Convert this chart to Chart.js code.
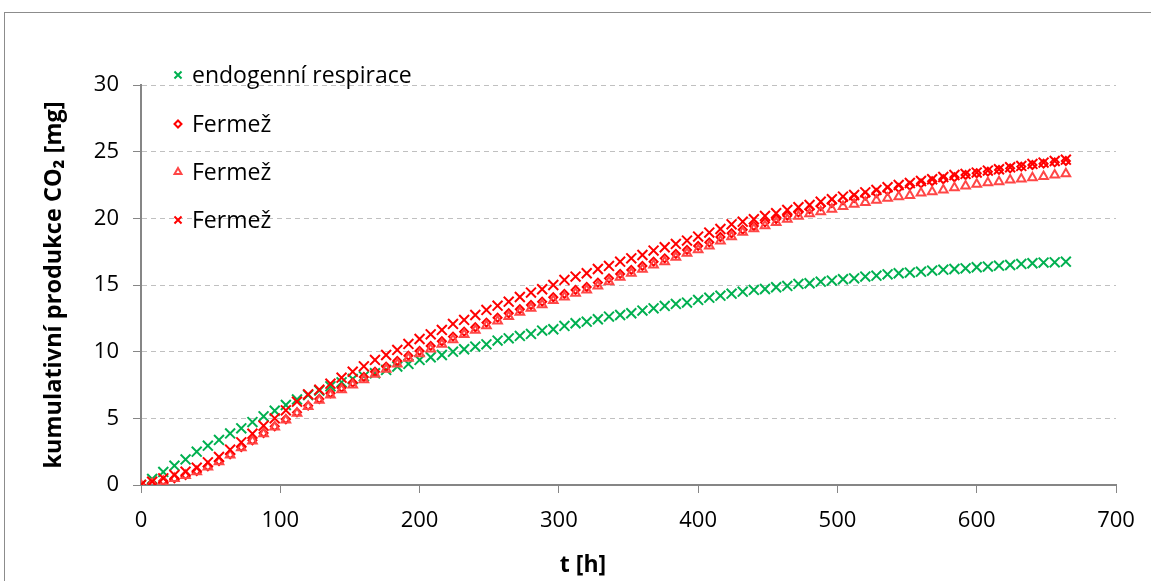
<!DOCTYPE html>
<html>
<head>
<meta charset="utf-8">
<script src="https://cdn.jsdelivr.net/npm/chart.js@4.4.1/dist/chart.umd.min.js"></script>
<style>
  html, body { margin: 0; padding: 0; background: #fff; overflow: hidden; }
  .frame { position: absolute; left: 4px; top: 12px; width: 1200px; height: 700px; border: 1px solid #8c8c8c; }
  #chart { position: absolute; left: 0; top: 0; }
</style>
</head>
<body>
<div class="frame"></div>
<canvas id="chart" width="1151" height="581"></canvas>
<script>
const hours = [
  0, 8, 16, 24, 32, 40, 48, 56, 64, 72,
  80, 88, 96, 104, 112, 120, 128, 136, 144, 152,
  160, 168, 176, 184, 192, 200, 208, 216, 224, 232,
  240, 248, 256, 264, 272, 280, 288, 296, 304, 312,
  320, 328, 336, 344, 352, 360, 368, 376, 384, 392,
  400, 408, 416, 424, 432, 440, 448, 456, 464, 472,
  480, 488, 496, 504, 512, 520, 528, 536, 544, 552,
  560, 568, 576, 584, 592, 600, 608, 616, 624, 632,
  640, 648, 656, 664
];

// endogenni respirace
const endogenni = [
  0, 0.45, 0.98, 1.45, 1.92, 2.5, 2.95, 3.38, 3.87, 4.25,
  4.72, 5.15, 5.57, 6.0, 6.42, 6.75, 7.08, 7.4, 7.7, 7.95,
  8.15, 8.38, 8.63, 8.88, 9.08, 9.38, 9.58, 9.75, 10.0, 10.18,
  10.38, 10.55, 10.83, 11.0, 11.18, 11.33, 11.58, 11.68, 11.93, 12.13,
  12.25, 12.43, 12.63, 12.75, 12.88, 13.08, 13.25, 13.43, 13.58, 13.68,
  13.88, 14.05, 14.2, 14.35, 14.5, 14.63, 14.7, 14.83, 14.93, 15.08,
  15.13, 15.25, 15.33, 15.43, 15.5, 15.63, 15.7, 15.8, 15.88, 15.93,
  16.0, 16.08, 16.15, 16.2, 16.25, 16.33, 16.38, 16.45, 16.5, 16.58,
  16.63, 16.68, 16.7, 16.75
];

// Fermez - diamonds
const fermezA = [
  0, 0.12, 0.3, 0.5, 0.75, 1.05, 1.4, 1.8, 2.3, 2.85,
  3.35, 3.9, 4.4, 4.93, 5.45, 5.95, 6.45, 6.88, 7.3, 7.68,
  8.1, 8.5, 8.88, 9.3, 9.7, 10.05, 10.43, 10.78, 11.13, 11.5,
  11.83, 12.18, 12.55, 12.88, 13.18, 13.5, 13.75, 14.08, 14.33, 14.63,
  14.85, 15.18, 15.5, 15.83, 16.13, 16.43, 16.75, 17.0, 17.33, 17.63,
  17.93, 18.2, 18.6, 18.88, 19.15, 19.42, 19.7, 19.95, 20.2, 20.45,
  20.68, 20.9, 21.15, 21.35, 21.52, 21.7, 21.9, 22.08, 22.28, 22.45,
  22.62, 22.78, 22.93, 23.08, 23.25, 23.38, 23.5, 23.63, 23.75, 23.88,
  24.0, 24.1, 24.2, 24.3
];

// Fermez - triangles
const fermezB = [
  0, 0.1, 0.28, 0.48, 0.72, 1.0, 1.35, 1.75, 2.25, 2.8,
  3.3, 3.85, 4.35, 4.88, 5.38, 5.88, 6.35, 6.75, 7.15, 7.5,
  7.9, 8.3, 8.68, 9.08, 9.5, 9.85, 10.2, 10.55, 10.9, 11.28,
  11.6, 11.95, 12.3, 12.63, 12.95, 13.25, 13.52, 13.83, 14.1, 14.38,
  14.62, 14.93, 15.25, 15.58, 15.88, 16.18, 16.5, 16.75, 17.08, 17.38,
  17.65, 17.92, 18.3, 18.62, 18.95, 19.22, 19.45, 19.68, 19.93, 20.15,
  20.35, 20.5, 20.68, 20.88, 21.05, 21.18, 21.35, 21.5, 21.62, 21.72,
  21.9, 22.0, 22.13, 22.3, 22.42, 22.55, 22.67, 22.75, 22.88, 22.95,
  23.05, 23.13, 23.25, 23.35
];

// Fermez - crosses
const fermezC = [
  0, 0.25, 0.5, 0.75, 1.0, 1.3, 1.7, 2.1, 2.65, 3.2,
  3.85, 4.45, 5.0, 5.6, 6.25, 6.8, 7.15, 7.6, 8.05, 8.5,
  8.9, 9.38, 9.75, 10.13, 10.58, 10.95, 11.3, 11.63, 12.08, 12.38,
  12.75, 13.13, 13.45, 13.75, 14.1, 14.43, 14.68, 15.0, 15.38, 15.63,
  15.88, 16.2, 16.43, 16.75, 17.0, 17.25, 17.58, 17.83, 18.08, 18.33,
  18.63, 18.93, 19.2, 19.55, 19.75, 19.93, 20.18, 20.38, 20.63, 20.83,
  21.0, 21.25, 21.43, 21.63, 21.75, 21.95, 22.13, 22.33, 22.5, 22.65,
  22.8, 22.93, 23.1, 23.25, 23.33, 23.43, 23.58, 23.68, 23.83, 23.93,
  24.08, 24.18, 24.3, 24.4
];

const seriesNames = ['endogenní respirace', 'Fermež', 'Fermež', 'Fermež'];
const xTitle = 't [h]';
const yTitle = 'kumulativní produkce CO₂ [mg]';

const FONT = "'Open Sans', sans-serif";
const GREEN = '#00b050';
const RED = '#ff0000';
const RED_LIGHT = '#ff4646';
const AXIS = '#868686';

const toPoints = arr => hours.map((t, i) => ({ x: t, y: arr[i] }));

const datasets = [
  { label: seriesNames[0], data: toPoints(endogenni), pointStyle: 'crossRot', pointRadius: 7,
    borderColor: GREEN, backgroundColor: GREEN, pointBorderWidth: 2, order: 3 },
  { label: seriesNames[1], data: toPoints(fermezA), pointStyle: 'rectRot', pointRadius: 4,
    borderColor: RED, backgroundColor: 'rgba(255,255,255,0)', pointBorderWidth: 2, order: 2 },
  { label: seriesNames[2], data: toPoints(fermezB), pointStyle: 'triangle', pointRadius: 5,
    borderColor: RED_LIGHT, backgroundColor: 'rgba(255,255,255,0)', pointBorderWidth: 2, order: 1 },
  { label: seriesNames[3], data: toPoints(fermezC), pointStyle: 'crossRot', pointRadius: 7,
    borderColor: RED, backgroundColor: RED, pointBorderWidth: 2, order: 0 }
];
datasets.forEach(d => { d.showLine = false; d.pointHoverRadius = d.pointRadius; });

// legend drawn inside the plot, like the original
const legendPlugin = {
  id: 'insideLegend',
  afterDraw(chart) {
    const ctx = chart.ctx;
    const rows = [
      { y: 75, style: 'crossRot', r: 5, color: GREEN },
      { y: 124, style: 'rectRot', r: 3.5, color: RED },
      { y: 172, style: 'triangle', r: 4, color: RED_LIGHT },
      { y: 220, style: 'crossRot', r: 5, color: RED }
    ];
    ctx.save();
    rows.forEach((row, i) => {
      ctx.strokeStyle = row.color;
      ctx.fillStyle = 'rgba(255,255,255,0)';
      ctx.lineWidth = 2;
      Chart.helpers.drawPoint(ctx, { pointStyle: row.style, radius: row.r, borderWidth: 2, rotation: 0 }, 178, row.y);
      ctx.fillStyle = '#000';
      ctx.font = '23px ' + FONT;
      ctx.textBaseline = 'middle';
      ctx.textAlign = 'left';
      ctx.fillText(seriesNames[i], 192, row.y + 1);
    });
    // x axis title is centred on the whole frame, not on the plot
    ctx.font = 'bold 23px ' + FONT;
    ctx.textAlign = 'center';
    ctx.fillText(xTitle, 583, 565);
    ctx.restore();
  }
};

new Chart(document.getElementById('chart'), {
  type: 'scatter',
  data: { datasets: datasets },
  options: {
    responsive: false,
    animation: false,
    devicePixelRatio: 1,
    layout: { padding: { left: 0, top: 85, right: 35, bottom: 0 } },
    plugins: {
      legend: { display: false },
      tooltip: { enabled: false }
    },
    scales: {
      x: {
        type: 'linear', min: 0, max: 700,
        afterFit: s => { s.height = 96; },
        ticks: { stepSize: 100, color: '#000', font: { family: FONT, size: 22 }, padding: 15, maxRotation: 0 },
        grid: { drawOnChartArea: false, drawTicks: true, tickLength: 8, tickColor: AXIS, tickWidth: 1 },
        border: { color: AXIS, width: 2 }
      },
      y: {
        min: 0, max: 30,
        afterFit: s => { s.width = 141; },
        ticks: { stepSize: 5, color: '#000', font: { family: FONT, size: 22 }, padding: 14 },
        grid: { color: '#c0c0c0', lineWidth: 1, drawTicks: true, tickLength: 8, tickColor: AXIS, tickBorderDash: [] },
        border: { color: AXIS, width: 2, dash: [5, 4] },
        title: { display: true, text: yTitle, color: '#000', font: { family: FONT, size: 23.5, weight: 'bold' }, padding: { top: 40, bottom: 0 } }
      }
    }
  },
  plugins: [legendPlugin]
});
</script>
</body>
</html>
